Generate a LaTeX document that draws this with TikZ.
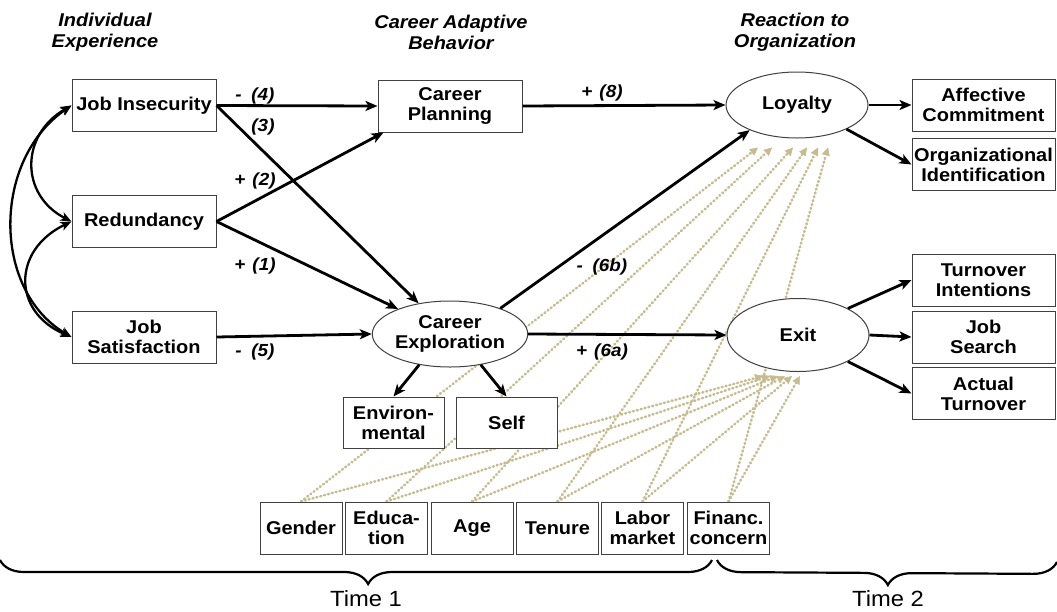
\documentclass[tikz,border=0pt]{standalone}
\usepackage{fontspec}
\setmainfont{Liberation Sans}[FakeStretch=1.08]
\usetikzlibrary{shapes.geometric,arrows.meta,decorations.pathreplacing,calc}
\definecolor{ctrltan}{RGB}{198,187,145}
\pgfdeclarelayer{bg}
\pgfsetlayers{bg,main}
\begin{document}
\begin{tikzpicture}[x=1pt,y=-1pt,
  font=\bfseries\fontsize{18.5}{20}\selectfont,
  box/.style={draw=black!75, line width=1pt, fill=white, align=center, inner sep=0pt, minimum width=144pt, minimum height=52pt},
  rbox/.style={box, minimum width=143pt},
  mbox/.style={box, minimum width=101pt, minimum height=51pt},
  cbox/.style={box, minimum width=82pt, minimum height=52pt},
  lat/.style={ellipse, draw=black!75, line width=1pt, fill=white, align=center, inner sep=0pt, minimum width=142pt, minimum height=66pt},
  path/.style={line width=2.8pt, -{Stealth[length=12pt,width=10pt,inset=3pt]}},
  cov/.style={line width=2.3pt, {Stealth[length=11pt,width=9pt,inset=3pt]}-{Stealth[length=11pt,width=9pt,inset=3pt]}},
  ctrl/.style={draw=ctrltan, line width=2.6pt, dash pattern=on 0.9pt off 3.1pt, line cap=round, -{Triangle[length=8pt,width=8pt,fill=ctrltan,line width=0.5pt]}},
  lab/.style={font=\bfseries\itshape\fontsize{17.5}{19}\selectfont, inner sep=0pt},
  head/.style={font=\bfseries\itshape\fontsize{18.5}{21}\selectfont, align=center, inner sep=0pt},
  timelab/.style={font=\normalfont\fontsize{22}{24}\selectfont, inner sep=0pt},
  bracestyle/.style={line width=2.2pt, decorate, decoration={brace, mirror, amplitude=24pt}}
]
\useasboundingbox (0,0) rectangle (1057,611);

% headings
\node[head] (h1) at (105,32) {Individual\\Experience};
\node[head] (h2) at (451,32) {Career Adaptive\\Behavior};
\node[head] (h3) at (795,32) {Reaction to\\Organization};

% left column
\node[box] (ji) at (144,105.5) {Job Insecurity};
\node[box] (red) at (144,221.5) {Redundancy};
\node[box] (jsat) at (144,337) {Job\\Satisfaction};

% middle
\node[box] (cp) at (450,106) {Career\\Planning};
\node[lat] (ce) at (450,334) {Career\\Exploration};
\node[mbox] (env) at (393.5,422.5) {Environ-\\mental};
\node[mbox] (self) at (506.5,422.5) {Self};

% reactions
\node[lat] (loy) at (797,105) {Loyalty};
\node[lat, minimum height=73pt] (exit) at (798,335) {Exit};

% outcomes
\node[rbox] (ac) at (983.5,105) {Affective\\Commitment};
\node[rbox] (oi) at (983.5,164.5) {Organizational\\Identification};
\node[rbox] (ti) at (983.5,280) {Turnover\\Intentions};
\node[rbox] (jse) at (983.5,337) {Job\\Search};
\node[rbox] (at) at (983.5,393.5) {Actual\\Turnover};

% controls
\node[cbox] (gen) at (301,528) {Gender};
\node[cbox] (edu) at (386.5,528) {Educa-\\tion};
\node[cbox] (age) at (472,528) {Age};
\node[cbox] (ten) at (557.5,528) {Tenure};
\node[cbox] (lab) at (642.5,528) {Labor\\market};
\node[cbox] (fin) at (728.5,528) {Financ.\\concern};

% dotted control paths
\begin{pgfonlayer}{bg}
\draw[ctrl] (gen.north) -- ([xshift=-39pt,yshift=-9pt]loy.south);
\draw[ctrl] (edu.north) -- ([xshift=-25pt,yshift=-9pt]loy.south);
\draw[ctrl] (age.north) -- ([xshift=-4pt,yshift=-9pt]loy.south);
\draw[ctrl] (ten.north) -- ([xshift=10pt,yshift=-9pt]loy.south);
\draw[ctrl] (lab.north) -- ([xshift=21pt,yshift=-9pt]loy.south);
\draw[ctrl] (fin.north) -- ([xshift=31pt,yshift=-9pt]loy.south);
\draw[ctrl] (gen.north) -- ([xshift=-35pt,yshift=-4pt]exit.south);
\draw[ctrl] (edu.north) -- ([xshift=-28pt,yshift=-4pt]exit.south);
\draw[ctrl] (age.north) -- ([xshift=-20pt,yshift=-4pt]exit.south);
\draw[ctrl] (ten.north) -- ([xshift=-13pt,yshift=-4pt]exit.south);
\draw[ctrl] (lab.north) -- ([xshift=-6pt,yshift=-4pt]exit.south);
\draw[ctrl] (fin.north) -- ([xshift=2pt,yshift=-4pt]exit.south);
\end{pgfonlayer}

% covariances
\draw[cov] (ji.west) .. controls (20,135) and (20,195) .. (red.west);
\draw[cov] (red.west) .. controls (12,250) and (12,312) .. (jsat.west);
\draw[cov] (ji.west) .. controls (-8,160) and (-8,290) .. (jsat.west);

% structural paths
\draw[path] (ji.east) -- (cp.west);
\draw[path] (ji.east) -- (ce);
\draw[path] (red.east) -- ([xshift=6pt]cp.south west);
\draw[path] (red.east) -- (ce);
\draw[path] (jsat.east) -- (ce.west);
\draw[path] (cp.east) -- (loy.west);
\draw[path] (ce.27) -- (loy.208);
\draw[path] (ce.east) -- (exit.west);
\draw[path] (ce.225) -- (env.north);
\draw[path] (ce.315) -- (self.north);
\draw[path] (loy.east) -- (ac.west);
\draw[path] (loy.334) -- (oi.west);
\draw[path] (exit.28) -- (ti.west);
\draw[path] (exit.east) -- (jse.west);
\draw[path] (exit.332) -- (at.west);

% path labels
\node[lab] (l4) at (255,96) {-\hspace{0.55em}(4)};
\node[lab] (l3) at (263,127) {(3)};
\node[lab] (l2) at (255,181) {+\hspace{0.4em}(2)};
\node[lab] (l1) at (255,266) {+\hspace{0.4em}(1)};
\node[lab] (l5) at (255,352) {-\hspace{0.55em}(5)};
\node[lab] (l8) at (602,93) {+\hspace{0.4em}(8)};
\node[lab] (l6b) at (602,267) {-\hspace{0.55em}(6b)};
\node[lab] (l6a) at (602,352) {+\hspace{0.4em}(6a)};

% braces
\coordinate (b1l) at (0,560);
\coordinate (b1r) at (712,560);
\coordinate (b2l) at (717,560);
\coordinate (b2r) at (1057,562);
\draw[bracestyle, decoration={aspect=0.517}] (b1l) -- (b1r);
\draw[bracestyle, decoration={aspect=0.503}] (b2l) -- (b2r);
\node[timelab] (t1) at (366,599) {Time 1};
\node[timelab] (t2) at (888,599) {Time 2};
\end{tikzpicture}
\end{document}
